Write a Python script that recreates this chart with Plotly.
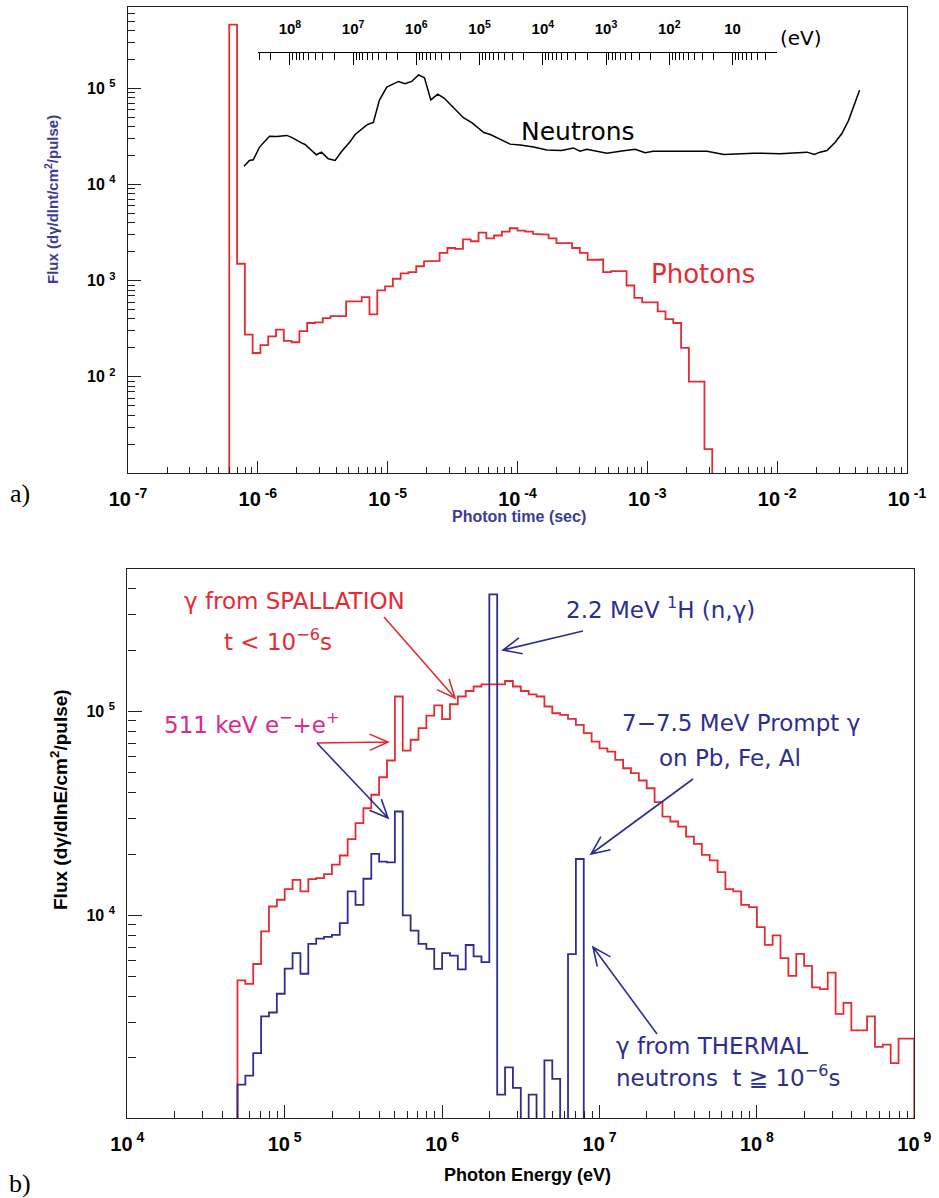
import math
import plotly.graph_objects as go

W, H = 939, 1198

# ---------------- panel a) data ----------------
# photon time histogram: log10(t) bins of width 0.06 starting at 1e-7 s
t_log_start, t_log_width = -7.0, 0.06
photon_first_bin = 13
photon_flux = [4.6e5, 1500, 275, 177, 214, 263, 309, 237, 229, 299, 363, 368, 407, 427, 427,
               610, 610, 676, 447, 794, 871, 1047, 1191, 1230, 1413, 1585, 1603, 1950, 2188,
               2138, 2690, 2570, 3162, 2754, 2951, 3236, 3508, 3311, 3236, 3062, 3020, 2754,
               2455, 2455, 2188, 1950, 1644, 1660, 1230, 1259, 1259, 891, 661, 596, 596, 479,
               398, 363, 200, 89, 89, 17.7, 0]

neutron_time = [7.83e-7, 8.61e-7, 9.23e-7, 1.03e-6, 1.23e-6, 1.40e-6, 1.67e-6, 1.82e-6, 2.19e-6,
                2.31e-6, 2.82e-6, 3.09e-6, 3.49e-6, 3.94e-6, 4.43e-6, 5.13e-6, 5.62e-6, 6.92e-6,
                7.76e-6, 8.63e-6, 9.84e-6, 1.21e-5, 1.36e-5, 1.53e-5, 1.73e-5, 1.92e-5, 2.15e-5,
                2.43e-5, 2.72e-5, 3.24e-5, 3.83e-5, 4.47e-5, 5.50e-5, 6.17e-5, 6.92e-5, 8.77e-5,
                1.05e-4, 1.33e-4, 1.68e-4, 2.19e-4, 2.69e-4, 3.03e-4, 3.42e-4, 4.88e-4, 6.17e-4,
                8.05e-4, 9.62e-4, 1.11e-3, 2.01e-3, 2.88e-3, 3.89e-3, 6.61e-3, 1.05e-2, 1.70e-2,
                1.93e-2, 2.14e-2, 2.42e-2, 2.80e-2, 3.15e-2, 3.55e-2, 4.31e-2]
neutron_flux = [1.55e4, 1.78e4, 1.81e4, 2.45e4, 3.18e4, 3.16e4, 3.24e4, 3.09e4, 2.69e4,
                2.61e4, 2.04e4, 2.17e4, 1.85e4, 1.78e4, 2.22e4, 2.79e4, 3.31e4, 4.17e4,
                4.43e4, 7.50e4, 1.03e5, 1.18e5, 1.12e5, 1.18e5, 1.38e5, 1.29e5, 7.59e4,
                8.71e4, 7.94e4, 6.31e4, 4.95e4, 4.37e4, 3.47e4, 3.31e4, 3.06e4, 2.63e4,
                2.57e4, 2.45e4, 2.29e4, 2.26e4, 2.40e4, 2.22e4, 2.32e4, 2.12e4, 2.22e4,
                2.33e4, 2.14e4, 2.22e4, 2.22e4, 2.22e4, 2.05e4, 2.12e4, 2.09e4, 2.17e4,
                2.05e4, 2.17e4, 2.26e4, 2.75e4, 3.39e4, 4.65e4, 9.55e4]

time_ticks = [1e-7, 1e-6, 1e-5, 1e-4, 1e-3, 1e-2, 1e-1]
time_tick_text = ["10<sup> -7</sup>", "10<sup> -6</sup>", "10<sup> -5</sup>", "10<sup> -4</sup>",
                  "10<sup> -3</sup>", "10<sup> -2</sup>", "10<sup> -1</sup>"]
flux_a_ticks = [1e2, 1e3, 1e4, 1e5]
flux_a_tick_text = ["10 <sup>2</sup>", "10 <sup>3</sup>", "10 <sup>4</sup>", "10 <sup>5</sup>"]

# neutron energy scale (eV) drawn along the top
energy_scale_min, energy_scale_max = 2.0, 3.16e8
energy_ticks = [1e8, 1e7, 1e6, 1e5, 1e4, 1e3, 1e2, 1e1]
energy_tick_text = ["10<sup>8</sup>", "10<sup>7</sup>", "10<sup>6</sup>", "10<sup>5</sup>",
                    "10<sup>4</sup>", "10<sup>3</sup>", "10<sup>2</sup>", "10"]

# ---------------- panel b) data ----------------
e_log_start, e_log_width = 4.0, 0.05
spall_first_bin = 14
spallation_flux = [4800, 4613, 5781, 8356, 11066, 11940, 13460, 14962, 13122, 15066, 15241,
                   15959, 17742, 19679, 23660, 28379, 33574, 39084, 47643, 57544, 118577,
                   64417, 72778, 82985, 95499, 107399, 91833, 108643, 118577, 126183, 132739,
                   136144, 136144, 136144, 141254, 132739, 126183, 121339, 118577, 105925,
                   98175, 96383, 92045, 86099, 78343, 71285, 66069, 63680, 57943, 52723, 49888,
                   45920, 42073, 35975, 30549, 28907, 27290, 24378, 22439, 19815, 18621, 16331,
                   13460, 13122, 11272, 10990, 8770, 7178, 7980, 6180, 5058, 6486, 5662, 4436,
                   4355, 5248, 3289, 3724, 2729, 2729, 3199, 2265, 2323, 1888, 2489, 2489]
thermal_first_bin = 14
thermal_flux = [1479, 1637, 2113, 3199, 3342, 4130, 5483, 6531, 5176, 7261, 7691, 7852, 8035,
                9162, 13122, 11272, 15136, 20045, 18365, 18197, 32359, 10000, 8433, 7261, 6855,
                5470, 6531, 6353, 5433, 7161, 6295, 5902, 375837, 1321, 1799, 1426, 0, 1321, 0,
                1945, 1578, 0, 6457, 18923, 0]

energy_axis_ticks = [1e4, 1e5, 1e6, 1e7, 1e8, 1e9]
energy_axis_text = ["10<sup> 4</sup>", "10<sup> 5</sup>", "10<sup> 6</sup>", "10<sup> 7</sup>",
                    "10<sup> 8</sup>", "10<sup> 9</sup>"]
flux_b_ticks = [1e4, 1e5]
flux_b_tick_text = ["10 <sup>4</sup>", "10 <sup>5</sup>"]

# ---------------- styling ----------------
RED = "#e52a33"
NAVY = "#2d2e8f"
MAGENTA = "#e0258c"
TITLE_NAVY = "#3b3b98"
AXC = "#222222"


def px(x):
    return x / W


def py(y):
    return 1 - y / H


def steps(first_bin, vals, log_start, log_width, floor):
    xs, ys = [10 ** (log_start + first_bin * log_width)], [floor]
    for i, v in enumerate(vals):
        a = 10 ** (log_start + (first_bin + i) * log_width)
        b = 10 ** (log_start + (first_bin + i + 1) * log_width)
        vv = v if v > 0 else floor
        xs += [a, b]
        ys += [vv, vv]
    xs.append(xs[-1])
    ys.append(floor)
    return xs, ys


def minor_vals(lo_exp, hi_exp, vmin, vmax):
    out = []
    for e in range(lo_exp, hi_exp + 1):
        for k in range(2, 10):
            v = k * 10 ** e
            if vmin <= v <= vmax:
                out.append(v)
    return out


fig = go.Figure()

ph_x, ph_y = steps(photon_first_bin, photon_flux, t_log_start, t_log_width, 1.0)
fig.add_trace(go.Scatter(x=ph_x, y=ph_y, mode="lines", line=dict(color=RED, width=1.8),
                         xaxis="x", yaxis="y", hoverinfo="skip"))
fig.add_trace(go.Scatter(x=neutron_time, y=neutron_flux, mode="lines",
                         line=dict(color="black", width=1.5), xaxis="x", yaxis="y",
                         hoverinfo="skip"))
# invisible carrier so the neutron-energy scale axis is drawn
fig.add_trace(go.Scatter(x=energy_ticks, y=[0.5] * len(energy_ticks), mode="markers",
                         marker=dict(opacity=0), xaxis="x3", yaxis="y3", hoverinfo="skip"))

sp_x, sp_y = steps(spall_first_bin, spallation_flux, e_log_start, e_log_width, 100.0)
th_x, th_y = steps(thermal_first_bin, thermal_flux, e_log_start, e_log_width, 100.0)
fig.add_trace(go.Scatter(x=sp_x, y=sp_y, mode="lines", line=dict(color=RED, width=1.8),
                         xaxis="x2", yaxis="y2", hoverinfo="skip"))
fig.add_trace(go.Scatter(x=th_x, y=th_y, mode="lines", line=dict(color=NAVY, width=1.8),
                         xaxis="x2", yaxis="y2", hoverinfo="skip"))

tickfont = dict(family="Liberation Sans, Arial", size=20, color="black", weight="bold")
ytickfont = dict(family="Liberation Sans, Arial", size=16, color="black", weight="bold")

common = dict(type="log", showline=True, linecolor=AXC, linewidth=1.4, mirror=True,
              showgrid=False, zeroline=False, ticks="inside", tickcolor=AXC, tickwidth=1,
              tickmode="array", automargin=False)

fig.update_layout(
    template="none",
    width=W, height=H, margin=dict(l=0, r=0, t=0, b=0, pad=0), autosize=False,
    paper_bgcolor="white", plot_bgcolor="white", showlegend=False,
    xaxis=dict(common, domain=[px(128), px(907)], anchor="y", range=[-7, -1],
               tickvals=time_ticks, ticktext=time_tick_text, ticklen=12, tickfont=tickfont,
               ticklabelstandoff=8,
               minor=dict(ticks="inside", ticklen=6, tickcolor=AXC, tickmode="array",
                          tickvals=minor_vals(-7, -2, 1e-7, 1e-1))),
    yaxis=dict(common, domain=[py(473), py(7)], anchor="x", range=[1, 5.846],
               tickvals=flux_a_ticks, ticktext=flux_a_tick_text, ticklen=13, tickfont=ytickfont,
               ticklabelstandoff=8,
               minor=dict(ticks="inside", ticklen=7, tickcolor=AXC, tickmode="array",
                          tickvals=minor_vals(1, 5, 10, 7e5))),
    xaxis2=dict(common, domain=[px(127.3), px(914.3)], anchor="y2", range=[4, 9],
                tickvals=energy_axis_ticks, ticktext=energy_axis_text, ticklen=13,
                tickfont=tickfont, ticklabelstandoff=7,
                minor=dict(ticks="inside", ticklen=7, tickcolor=AXC, tickmode="array",
                           tickvals=minor_vals(4, 8, 1e4, 1e9))),
    yaxis2=dict(common, domain=[py(1118.3), py(569.3)], anchor="x2", range=[3.005, 5.698],
                tickvals=flux_b_ticks, ticktext=flux_b_tick_text, ticklen=14, tickfont=ytickfont,
                ticklabelstandoff=8,
                minor=dict(ticks="inside", ticklen=8, tickcolor=AXC, tickmode="array",
                           tickvals=minor_vals(3, 5, 1e3, 5e5))),
    xaxis3=dict(type="log", domain=[px(258.3), px(776.7)], anchor="y3", side="top",
                range=[math.log10(energy_scale_max), math.log10(energy_scale_min)],
                showline=True, linecolor="black", linewidth=1.3, showgrid=False,
                zeroline=False, ticks="inside", ticklen=12, tickwidth=1.2, tickcolor="black",
                tickmode="array", tickvals=energy_ticks, ticktext=energy_tick_text,
                tickfont=dict(family="Liberation Sans, Arial", size=15, color="black",
                              weight="bold"),
                ticklabelstandoff=12, automargin=False,
                minor=dict(ticks="inside", ticklen=7, tickwidth=1, tickcolor="black",
                           tickmode="array",
                           tickvals=minor_vals(0, 8, energy_scale_min, energy_scale_max))),
    yaxis3=dict(domain=[py(70), py(53.3)], anchor="x3", visible=False, range=[0, 1],
                automargin=False),
)

annotations = []


def ann(text, x, y, size, color, family="DejaVu Sans", weight="normal", angle=0,
        xanchor="center", yanchor="middle"):
    annotations.append(dict(text=text, x=px(x), y=py(y), xref="paper", yref="paper",
                            showarrow=False, textangle=angle, xanchor=xanchor,
                            yanchor=yanchor,
                            font=dict(family=family, size=size, color=color, weight=weight)))


# panel a labels
ann("Neutrons", 578, 131, 25, "black")
ann("Photons", 703, 274, 26, RED)
ann("(eV)", 801, 38, 20, "black")
ann("Flux (dγ/dlnt/cm<sup>2</sup>/pulse)", 51, 200, 15, TITLE_NAVY,
    family="Liberation Sans, Arial", weight="bold", angle=-90)
ann("Photon time (sec)", 519, 516, 16, TITLE_NAVY, family="Liberation Sans, Arial",
    weight="bold")
ann("a)", 20, 493, 26, "black", family="Liberation Serif, Times New Roman")

# panel b labels
ann("γ from SPALLATION", 294, 601, 23, RED)
ann("t &lt; 10<sup>−6</sup>s", 278, 640, 23, RED)
ann("511 keV e<sup>−</sup>+e<sup>+</sup>", 251, 723, 23, MAGENTA)
ann("2.2 MeV <sup>1</sup>H (n,γ)", 660, 608, 23, NAVY)
ann("7−7.5 MeV Prompt γ", 741, 723, 23, NAVY)
ann("on Pb, Fe, Al", 730, 758, 23, NAVY)
ann("γ from THERMAL", 712, 1046, 23, NAVY)
ann("neutrons  t ≧ 10<sup>−6</sup>s", 728, 1076, 23, NAVY)
ann("Flux (dγ/dlnE/cm<sup>2</sup>/pulse)", 59, 800, 19, "black",
    family="Liberation Sans, Arial", weight="bold", angle=-90)
ann("Photon Energy (eV)", 527, 1175, 18, "black", family="Liberation Sans, Arial",
    weight="bold")
ann("b)", 20, 1183, 26, "black", family="Liberation Serif, Times New Roman")

fig.update_layout(annotations=annotations)

# arrows (open V heads)
shapes = []


def arrow(tail, head, color, L=20, ang=24, width=1.6):
    tx, ty = tail
    hx, hy = head
    dx, dy = tx - hx, ty - hy
    n = math.hypot(dx, dy)
    ux, uy = dx / n, dy / n
    wings = []
    for s in (1, -1):
        a = math.radians(ang) * s
        wx = hx + L * (ux * math.cos(a) - uy * math.sin(a))
        wy = hy + L * (ux * math.sin(a) + uy * math.cos(a))
        wings.append((wx, wy))
    path = (f"M{px(tx)},{py(ty)} L{px(hx)},{py(hy)} "
            f"M{px(wings[0][0])},{py(wings[0][1])} L{px(hx)},{py(hy)} "
            f"L{px(wings[1][0])},{py(wings[1][1])}")
    shapes.append(dict(type="path", path=path, xref="paper", yref="paper",
                       line=dict(color=color, width=width)))


arrow((384, 617), (455, 698), RED)
arrow((583, 631), (503, 650), NAVY)
arrow((317, 743), (388, 742), RED)
arrow((317, 743), (388, 818), NAVY)
arrow((693, 779), (591, 854), NAVY)
arrow((657, 1034), (593, 947), NAVY)

fig.update_layout(shapes=shapes)

fig.write_html("out.html", config={"displayModeBar": False},
               post_script="document.body.style.margin='0';")
